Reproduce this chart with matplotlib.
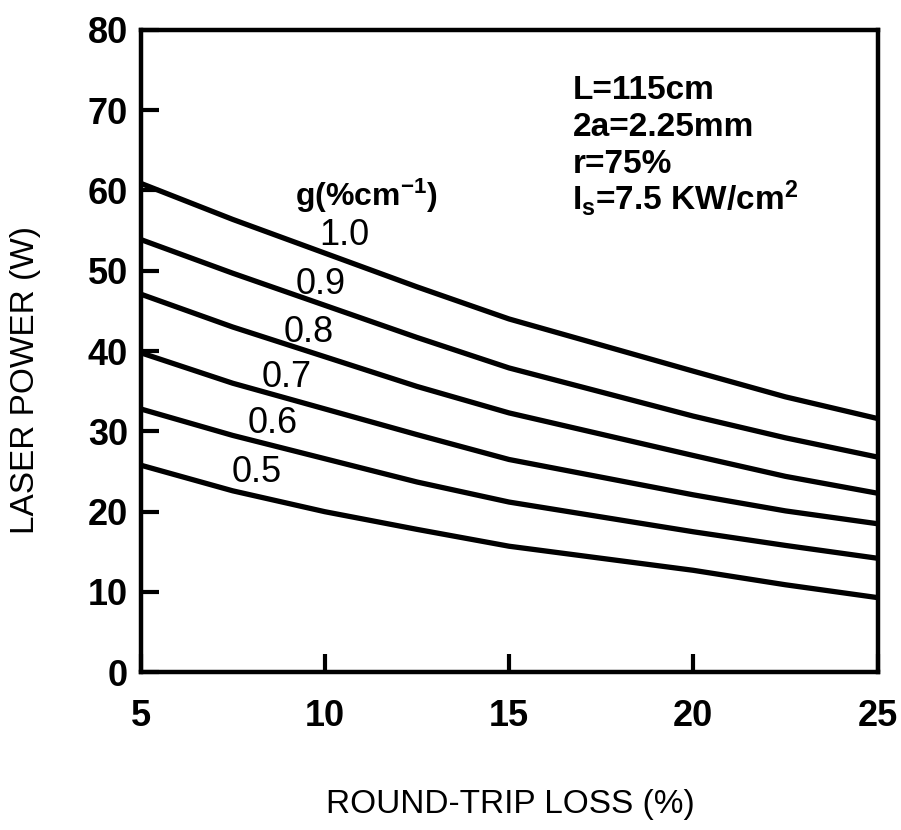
import matplotlib
matplotlib.use("Agg")
import matplotlib.pyplot as plt

plt.rcParams["font.family"] = ["Liberation Sans", "DejaVu Sans"]
plt.rcParams["mathtext.default"] = "regular"

# Round-trip loss (%) at which the curves are sampled
loss = [5, 7.5, 10, 12.5, 15, 20, 22.5, 25]

# Laser output power (W) for each small-signal gain g (%/cm)
power_g10 = [60.9, 56.4, 52.2, 48.0, 44.0, 37.5, 34.3, 31.6]
power_g09 = [53.9, 49.7, 45.7, 41.7, 37.9, 31.9, 29.2, 26.8]
power_g08 = [47.1, 43.0, 39.3, 35.6, 32.3, 27.0, 24.4, 22.3]
power_g07 = [39.8, 36.0, 32.8, 29.6, 26.5, 22.1, 20.1, 18.5]
power_g06 = [32.8, 29.5, 26.6, 23.7, 21.2, 17.5, 15.8, 14.2]
power_g05 = [25.8, 22.6, 20.0, 17.8, 15.7, 12.7, 10.9, 9.3]

gain_labels = ["1.0", "0.9", "0.8", "0.7", "0.6", "0.5"]
series = [power_g10, power_g09, power_g08, power_g07, power_g06, power_g05]
label_pos = [(10.52, 54.4), (9.9, 48.3), (9.56, 42.3),
             (8.96, 36.7), (8.58, 31.0), (8.14, 24.9)]

x_ticks = [5, 10, 15, 20, 25]
y_ticks = [0, 10, 20, 30, 40, 50, 60, 70, 80]

params = ["L=115cm", "2a=2.25mm", "r=75%", r"I$_s$=7.5 KW/cm$^2$"]

fig = plt.figure(figsize=(9.01, 8.30), dpi=100)
ax = fig.add_axes([0.156, 0.190, 0.818, 0.774])

for vals in series:
    ax.plot(loss, vals, color="black", lw=3.8, solid_capstyle="butt",
            solid_joinstyle="round")

for lab, (lx, ly) in zip(gain_labels, label_pos):
    ax.text(lx, ly, lab, fontsize=26, ha="center", va="center", color="black")

ax.text(9.2, 59.3, r"g(%cm$^{-1}$)", fontsize=23, fontweight="bold",
        ha="left", va="center")

for i, line in enumerate(params):
    ax.text(16.72, 71.4 - i * 4.6, line, fontsize=24, fontweight="bold",
            ha="left", va="baseline")

ax.set_xlim(5, 25)
ax.set_ylim(0, 80)
ax.set_xticks(x_ticks)
ax.set_yticks(y_ticks)
ax.set_xticklabels([str(v) for v in x_ticks], fontsize=26, fontweight="bold")
ax.set_yticklabels([str(v) for v in y_ticks], fontsize=26, fontweight="bold")
ax.tick_params(axis="both", direction="in", length=13, width=3)
ax.tick_params(axis="x", pad=19)
ax.tick_params(axis="y", pad=9)
for sp in ax.spines.values():
    sp.set_linewidth(3.2)

fig.text(510 / 901, 1 - 804 / 830, "ROUND-TRIP LOSS (%)", fontsize=24,
         ha="center", va="center")
fig.text(26 / 901, 1 - 380 / 830, "LASER POWER (W)", fontsize=24,
         rotation=90, ha="center", va="center")

fig.savefig("out.png", dpi=100)
